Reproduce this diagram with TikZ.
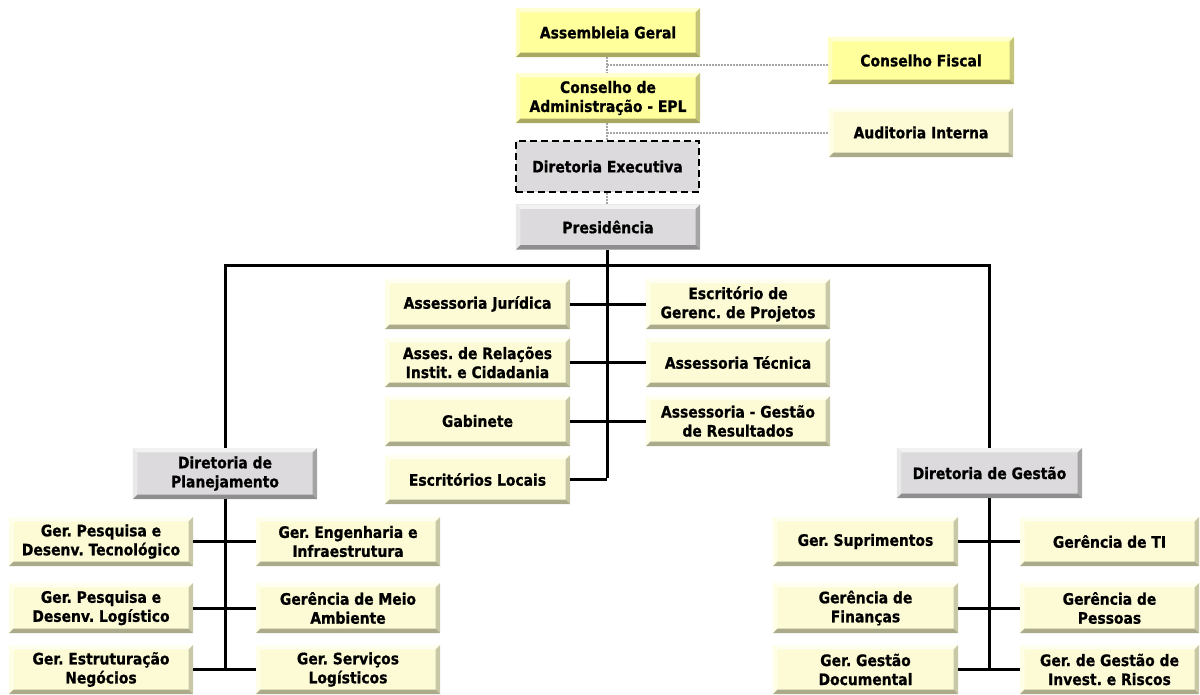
\documentclass[tikz,border=0pt]{standalone}
\usepackage{fontspec}
\setmainfont{DejaVu Sans}[FakeStretch=0.88, BoldFeatures={FakeBold=0.8}]
\usetikzlibrary{calc}
\definecolor{yface}{HTML}{FFFF9C}
\definecolor{ytop}{HTML}{FFFFD2}
\definecolor{yleft}{HTML}{FFFFC0}
\definecolor{yright}{HTML}{C4C47A}
\definecolor{ybot}{HTML}{A8A862}
\definecolor{gface}{HTML}{DCDADC}
\definecolor{gtop}{HTML}{F2F2F2}
\definecolor{gleft}{HTML}{E9E9E9}
\definecolor{gright}{HTML}{A4A4A4}
\definecolor{gbot}{HTML}{8E8E8E}
\definecolor{cface}{HTML}{FCFBD6}
\definecolor{ctop}{HTML}{FFFFF0}
\definecolor{cleft}{HTML}{FFFFE8}
\definecolor{cright}{HTML}{C8C8A6}
\definecolor{cbot}{HTML}{ABAB8C}
\definecolor{dotgray}{HTML}{A6A6A6}
\tikzset{
  every node/.style={font=\fontsize{15.8}{19}\selectfont\bfseries\frenchspacing, align=center, inner sep=0pt},
  conn/.style={line width=3pt, black},
  dotline/.style={line width=2pt, dotgray, dash pattern=on 1.5pt off 1.5pt},
  execbox/.style={fill=gface, draw=black, line width=2.2pt, dash pattern=on 7pt off 4pt},
}
% name, cx, cy, w, h, kind (y/g/c), text
\newcommand\obox[7]{%
  \node[fill=#6face, minimum width=#4pt, minimum height=#5pt] (#1) at (#2,#3) {#7};
  \fill[#6top] (#1.north west) -- (#1.north east) -- ($(#1.north east)+(-4.5,4.5)$) -- ($(#1.north west)+(4.5,4.5)$) -- cycle;
  \fill[#6left] (#1.north west) -- (#1.south west) -- ($(#1.south west)+(4.5,-4.5)$) -- ($(#1.north west)+(4.5,4.5)$) -- cycle;
  \fill[#6right] (#1.north east) -- (#1.south east) -- ($(#1.south east)+(-4.5,-4.5)$) -- ($(#1.north east)+(-4.5,4.5)$) -- cycle;
  \fill[#6bot] (#1.south west) -- (#1.south east) -- ($(#1.south east)+(-4.5,-4.5)$) -- ($(#1.south west)+(4.5,-4.5)$) -- cycle;
}
\begin{document}
\begin{tikzpicture}[x=1pt,y=-1pt]
\useasboundingbox (0,0) rectangle (1200,695);
% top
\obox{ag}{608}{32.5}{184}{49}{y}{Assembleia Geral}
\obox{ca}{608}{98}{184}{50}{y}{Conselho de\\Administração - EPL}
\node[execbox, minimum width=183pt, minimum height=51pt] (de) at (607.5,166.5) {Diretoria Executiva};
\obox{pr}{608}{227}{184}{45}{g}{Presidência}
\obox{cf}{921}{60.5}{186}{47}{y}{Conselho Fiscal}
\obox{ai}{921}{132.5}{184}{49}{c}{Auditoria Interna}
% central
\obox{aj}{477.5}{304}{185}{50}{c}{Assessoria Jurídica}
\obox{ar}{477.5}{362.5}{185}{49}{c}{Asses. de Relações\\Instit. e Cidadania}
\obox{gb}{477.5}{421}{185}{50}{c}{Gabinete}
\obox{el}{477.5}{479.5}{185}{49}{c}{Escritórios Locais}
\obox{ep}{738}{304}{184}{50}{c}{Escritório de\\Gerenc. de Projetos}
\obox{at}{738}{362.5}{184}{49}{c}{Assessoria Técnica}
\obox{gr}{738}{421}{184}{50}{c}{Assessoria - Gestão\\de Resultados}
% planejamento
\obox{dp}{225}{473.5}{184}{51}{g}{Diretoria de\\Planejamento}
\obox{pt}{101}{541.5}{184}{49}{c}{Ger. Pesquisa e\\Desenv. Tecnológico}
\obox{pl}{101}{608}{184}{50}{c}{Ger. Pesquisa e\\Desenv. Logístico}
\obox{en}{101}{669.5}{184}{49}{c}{Ger. Estruturação\\Negócios}
\obox{ei}{348}{541.5}{184}{49}{c}{Ger. Engenharia e\\Infraestrutura}
\obox{ma}{348}{608}{184}{50}{c}{Gerência de Meio\\Ambiente}
\obox{sl}{348}{669.5}{184}{49}{c}{Ger. Serviços\\Logísticos}
% gestao
\obox{dg}{989.5}{473}{185}{50}{g}{Diretoria de Gestão}
\obox{gs}{865.5}{541.5}{185}{49}{c}{Ger. Suprimentos}
\obox{gf}{865.5}{608}{185}{50}{c}{Gerência de\\Finanças}
\obox{gd}{865.5}{669.5}{185}{49}{c}{Ger. Gestão\\Documental}
\obox{ti}{1109.5}{541.5}{179}{49}{c}{Gerência de TI}
\obox{gp}{1109.5}{608}{179}{50}{c}{Gerência de\\Pessoas}
\obox{ir}{1109.5}{669.5}{179}{49}{c}{Ger. de Gestão de\\Invest. e Riscos}
% coordinates
\coordinate (j1) at (607,65);
\coordinate (j2) at (607,133);
\coordinate (bar) at (607,266);
\coordinate (tend) at (607,478);
% dotted connectors
\draw[dotline] (ag.south -| j1) -- (ca.north -| j1);
\draw[dotline] (j1) -- (j1 -| cf.west);
\draw[dotline] (ca.south -| j2) -- (de.north -| j2);
\draw[dotline] (j2) -- (j2 -| ai.west);
\draw[dotline] (de.south -| j2) -- (pr.north -| j2);
% solid connectors
\draw[conn] (pr.south -| bar) -- (tend);
\draw[conn] (dp.north) -- (dp.north |- bar) -- (dg.north |- bar) -- (dg.north);
\draw[conn] (aj.east) -- (ep.west);
\draw[conn] (ar.east) -- (at.west);
\draw[conn] (gb.east) -- (gr.west);
\draw[conn] (el.east) -- (el.east -| tend);
\draw[conn] (dp.south) -- (dp.south |- en.east);
\draw[conn] (pt.east) -- (ei.west);
\draw[conn] (pl.east) -- (ma.west);
\draw[conn] (en.east) -- (sl.west);
\draw[conn] (dg.south) -- (dg.south |- gd.east);
\draw[conn] (gs.east) -- (ti.west);
\draw[conn] (gf.east) -- (gp.west);
\draw[conn] (gd.east) -- (ir.west);
\end{tikzpicture}
\end{document}
